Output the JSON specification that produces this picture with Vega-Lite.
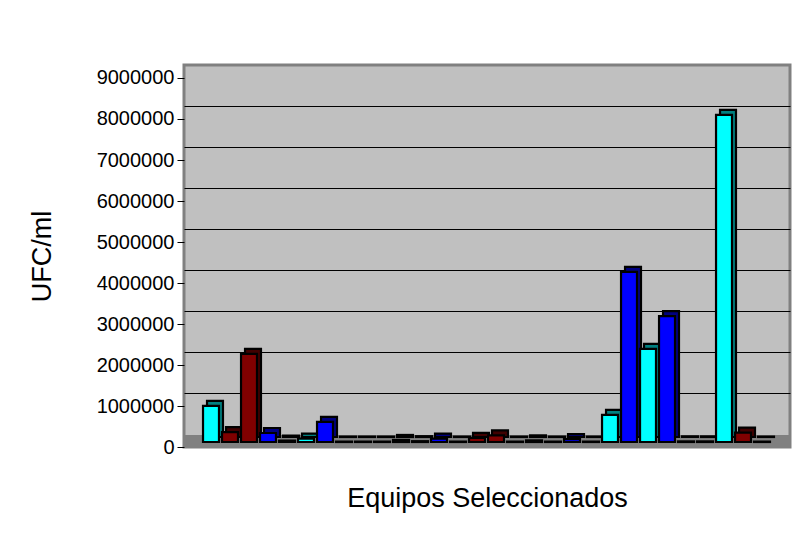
{
  "$schema": "https://vega.github.io/schema/vega-lite/v6.json",
  "width": 606,
  "height": 382,
  "autosize": {"type": "none"},
  "padding": {"left": 184, "top": 65, "right": 19, "bottom": 107},
  "background": "#ffffff",
  "config": {
    "font": "Liberation Sans",
    "view": {"fill": "#C0C0C0", "stroke": "#808080", "strokeWidth": 3},
    "axis": {"labelFont": "Liberation Sans", "titleFont": "Liberation Sans", "labelColor": "#000000", "titleColor": "#000000", "titleFontWeight": "normal"}
  },
  "data": {
    "values": [
      {"equipo": "1", "grupo": "1", "ufc": 880000},
      {"equipo": "2", "grupo": "2", "ufc": 240000},
      {"equipo": "3", "grupo": "2", "ufc": 2150000},
      {"equipo": "4", "grupo": "3", "ufc": 220000},
      {"equipo": "5", "grupo": "3", "ufc": 35000},
      {"equipo": "6", "grupo": "1", "ufc": 80000},
      {"equipo": "7", "grupo": "3", "ufc": 490000},
      {"equipo": "8", "grupo": "1", "ufc": 10000},
      {"equipo": "9", "grupo": "1", "ufc": 10000},
      {"equipo": "10", "grupo": "1", "ufc": 10000},
      {"equipo": "11", "grupo": "3", "ufc": 50000},
      {"equipo": "12", "grupo": "3", "ufc": 20000},
      {"equipo": "13", "grupo": "3", "ufc": 80000},
      {"equipo": "14", "grupo": "2", "ufc": 10000},
      {"equipo": "15", "grupo": "2", "ufc": 100000},
      {"equipo": "16", "grupo": "2", "ufc": 160000},
      {"equipo": "17", "grupo": "2", "ufc": 10000},
      {"equipo": "18", "grupo": "3", "ufc": 40000},
      {"equipo": "19", "grupo": "2", "ufc": 10000},
      {"equipo": "20", "grupo": "3", "ufc": 70000},
      {"equipo": "21", "grupo": "2", "ufc": 10000},
      {"equipo": "22", "grupo": "1", "ufc": 660000},
      {"equipo": "23", "grupo": "3", "ufc": 4150000},
      {"equipo": "24", "grupo": "1", "ufc": 2270000},
      {"equipo": "25", "grupo": "3", "ufc": 3070000},
      {"equipo": "26", "grupo": "3", "ufc": 15000},
      {"equipo": "27", "grupo": "3", "ufc": 15000},
      {"equipo": "28", "grupo": "1", "ufc": 7980000},
      {"equipo": "29", "grupo": "2", "ufc": 230000},
      {"equipo": "30", "grupo": "2", "ufc": 10000}
    ]
  },
  "layer": [
    {
      "mark": {"type": "bar", "width": {"band": 0.84}, "xOffset": 2.5, "yOffset": -10, "stroke": "#000000", "strokeWidth": 2.2},
      "encoding": {
        "x": {"field": "equipo", "type": "ordinal", "sort": null, "scale": {"paddingInner": 0, "paddingOuter": 0.947, "align": 0.528},
          "axis": {"title": "Equipos Seleccionados", "labels": false, "ticks": false, "domain": true, "domainColor": "#808080", "domainWidth": 13, "offset": -6, "titleFontSize": 27, "titlePadding": 44}},
        "y": {"field": "ufc", "type": "quantitative", "scale": {"domain": [0, 9317073], "nice": false, "zero": false},
          "axis": {"orient": "left", "grid": true, "gridColor": "#000000", "gridWidth": 1, "gridOpacity": 1, "tickOffset": -13, "labels": false, "ticks": false, "domain": false, "title": null, "values": [1000000, 2000000, 3000000, 4000000, 5000000, 6000000, 7000000, 8000000]}},
        "color": {"field": "grupo", "type": "nominal", "legend": null, "scale": {"domain": ["1", "2", "3"], "range": ["#008080", "#400000", "#000080"]}}
      }
    },
    {
      "mark": {"type": "bar", "width": {"band": 0.84}, "xOffset": -1.5, "yOffset": -5, "stroke": "#000000", "strokeWidth": 2.2},
      "encoding": {
        "x": {"field": "equipo", "type": "ordinal", "sort": null, "scale": {"paddingInner": 0, "paddingOuter": 0.947, "align": 0.528},
          "axis": {"title": "Equipos Seleccionados", "labels": false, "ticks": false, "domain": true, "domainColor": "#808080", "domainWidth": 13, "offset": -6, "titleFontSize": 27, "titlePadding": 44}},
        "y": {"field": "ufc", "type": "quantitative", "scale": {"domain": [0, 9317073], "nice": false, "zero": false},
          "axis": {"orient": "left", "grid": false, "values": [0, 1000000, 2000000, 3000000, 4000000, 5000000, 6000000, 7000000, 8000000, 9000000], "format": "d", "labelFontSize": 20, "tickSize": 7, "tickColor": "#000000", "domain": false, "labelPadding": 3, "title": "UFC/ml", "titleFontSize": 27, "titlePadding": 40}},
        "color": {"field": "grupo", "type": "nominal", "legend": null, "scale": {"domain": ["1", "2", "3"], "range": ["#00FFFF", "#800000", "#0000FF"]}}
      }
    }
  ],
  "resolve": {"scale": {"color": "independent", "y": "independent"}, "axis": {"y": "independent"}}
}
